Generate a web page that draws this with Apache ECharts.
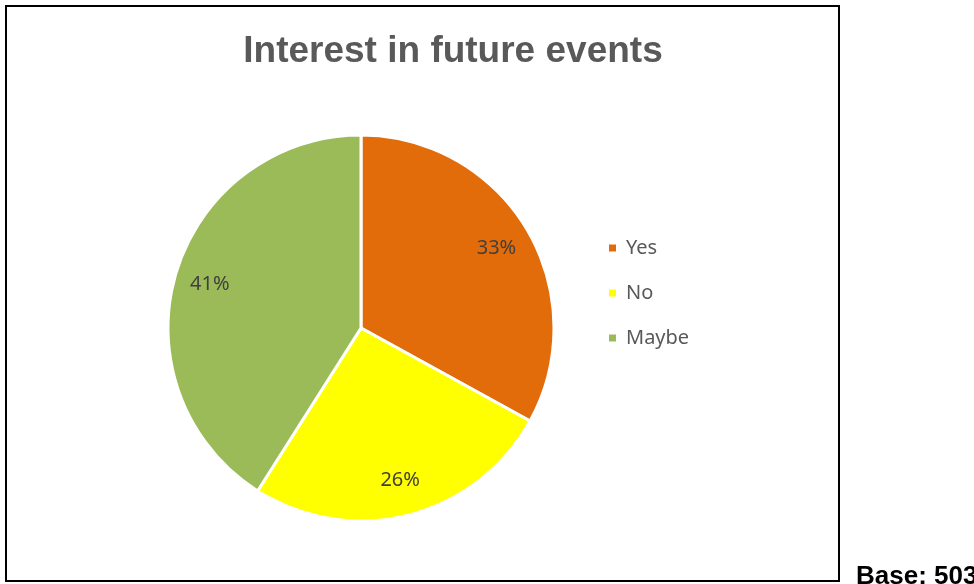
<!DOCTYPE html>
<html>
<head>
<meta charset="utf-8">
<style>
  html, body { margin: 0; padding: 0; background: #fff; overflow: hidden; }
  #chart { width: 974px; height: 584px; }
</style>
<script src="https://cdn.jsdelivr.net/npm/echarts@6/dist/echarts.min.js"></script>
</head>
<body>
<div id="chart"></div>
<script>
// Survey answers and their shares (%)
const categories = ['Yes', 'No', 'Maybe'];
const shares = [33, 26, 41];
const colors = ['#E36C0A', '#FFFF00', '#9BBB59'];
const baseCount = 503;

const chart = echarts.init(document.getElementById('chart'));

const pieData = categories.map((name, i) => ({
  name: name,
  value: shares[i],
  itemStyle: { color: colors[i] }
}));

const center = [361, 328];
const R = 193;

chart.setOption({
  animation: false,
  title: [
    {
      text: 'Interest in future events',
      left: 448,
      top: 28,
      textAlign: 'center',
      textStyle: {
        fontFamily: '"Liberation Sans", Arial, sans-serif',
        fontSize: 37,
        fontWeight: 'bold',
        color: '#595959'
      }
    },
    {
      text: 'Base: ' + baseCount,
      left: 851,
      top: 559,
      textStyle: {
        fontFamily: '"Liberation Sans", Arial, sans-serif',
        fontSize: 26,
        fontWeight: 'bold',
        color: '#000'
      }
    }
  ],
  legend: {
    orient: 'vertical',
    left: 607,
    top: 236,
    padding: 0,
    icon: 'rect',
    itemWidth: 9,
    itemHeight: 9,
    itemGap: 21,
    data: categories,
    textStyle: {
      fontFamily: '"Noto Sans", "Open Sans", sans-serif',
      fontSize: 20,
      color: '#595959',
      lineHeight: 24,
      padding: [0, 0, 0, 4]
    }
  },
  graphic: [
    {
      type: 'rect',
      shape: { x: 6, y: 6, width: 833, height: 575 },
      style: { fill: 'none', stroke: '#000', lineWidth: 2 },
      silent: true
    }
  ],
  series: [
    {
      type: 'pie',
      center: center,
      radius: [0, R],
      startAngle: 90,
      clockwise: true,
      data: pieData,
      label: { show: false },
      labelLine: { show: false },
      itemStyle: { borderColor: '#fff', borderWidth: 3 },
      emphasis: { disabled: true }
    },
    {
      // ring used only to place the percentage labels near the rim
      type: 'pie',
      center: center,
      radius: [R * 0.6, R],
      startAngle: 90,
      clockwise: true,
      data: pieData.map(d => ({ name: d.name, value: d.value })),
      itemStyle: { color: 'rgba(0,0,0,0)', borderWidth: 0 },
      label: {
        show: true,
        position: 'inside',
        formatter: p => p.value + '%',
        fontFamily: '"Noto Sans", "Open Sans", sans-serif',
        fontSize: 20,
        color: '#404040'
      },
      labelLine: { show: false },
      emphasis: { disabled: true },
      silent: true,
      legendHoverLink: false
    }
  ]
});
</script>
</body>
</html>
